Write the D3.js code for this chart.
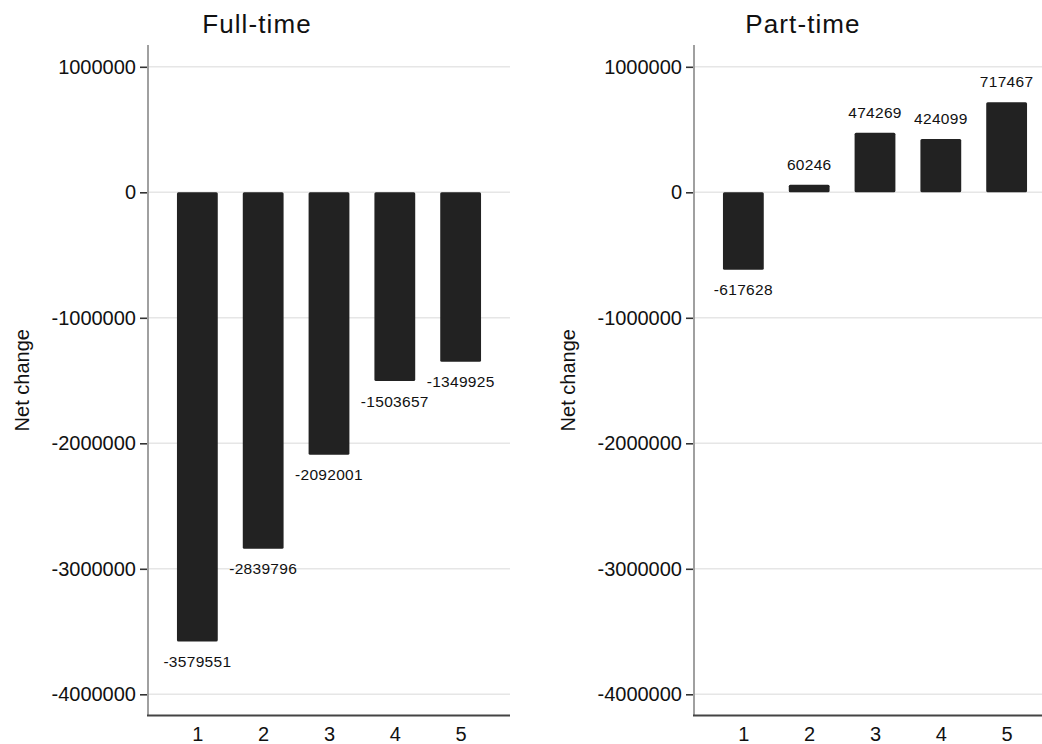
<!DOCTYPE html>
<html>
<head>
<meta charset="utf-8">
<script src="https://cdn.jsdelivr.net/npm/d3@7"></script>
<style>
  html, body { margin: 0; padding: 0; background: #fff; }
  svg { display: block; }
  text { font-family: "Liberation Sans", Arial, sans-serif; fill: #111; }
</style>
</head>
<body>
<svg id="chart" width="1042" height="744"></svg>
<script>
const categories = [1, 2, 3, 4, 5];
const fullTime = [-3579551, -2839796, -2092001, -1503657, -1349925];
const partTime = [-617628, 60246, 474269, 424099, 717467];
const yTicks = [1000000, 0, -1000000, -2000000, -3000000, -4000000];
const panelTitles = ["Full-time", "Part-time"];
const yAxisTitle = "Net change";

const svg = d3.select("#chart");
const W = 1042, H = 744;
svg.append("rect").attr("width", W).attr("height", H).attr("fill", "#fff");

const fmt = d3.formatLocale({decimal: ".", thousands: "", grouping: [3], currency: ["", ""], minus: "-"}).format("d");

const y = d3.scaleLinear().domain([-4000000, 1000000]).range([694.3, 66.8]);
const axisTop = 45, axisBottom = 715.5;

function panel(x0, values, title) {
  const g = svg.append("g");
  const x = d3.scaleLinear().domain([0.25, 5.75]).range([x0, x0 + 362]);
  const barW = x(1.62) - x(1);

  // gridlines
  g.selectAll("line.grid").data(yTicks).join("line")
    .attr("x1", x0).attr("x2", x0 + 362)
    .attr("y1", d => y(d)).attr("y2", d => y(d))
    .attr("stroke", "#e6e6e6").attr("stroke-width", 1.6);

  // bars
  g.selectAll("rect.bar").data(values).join("rect")
    .attr("x", (d, i) => x(categories[i]) - barW / 2)
    .attr("width", barW)
    .attr("y", d => Math.min(y(d), y(0)))
    .attr("height", d => Math.abs(y(d) - y(0)))
    .attr("rx", 1.5)
    .attr("fill", "#222");

  // value labels
  g.selectAll("text.val").data(values).join("text")
    .attr("x", (d, i) => x(categories[i]))
    .attr("y", d => d >= 0 ? y(d) - 15 : y(d) + 25.5)
    .attr("text-anchor", "middle")
    .attr("font-size", 15.5)
    .attr("letter-spacing", 0.3)
    .text(d => fmt(d));

  // y axis
  const yAxis = d3.axisLeft(y).tickValues(yTicks).tickSize(8).tickPadding(4)
    .tickFormat(fmt);
  const ya = g.append("g").attr("transform", `translate(${x0},0)`).call(yAxis);
  ya.select(".domain").remove();
  ya.selectAll(".tick line").attr("stroke", "#333").attr("stroke-width", 1.6);
  ya.selectAll(".tick text").attr("font-size", 20).attr("fill", "#111")
    .attr("font-family", "Liberation Sans, Arial, sans-serif");
  g.append("line").attr("x1", x0).attr("x2", x0).attr("y1", axisTop).attr("y2", axisBottom)
    .attr("stroke", "#a0a0a0").attr("stroke-width", 2);

  // x axis
  const xAxis = d3.axisBottom(x).tickValues(categories).tickSize(0).tickPadding(11)
    .tickFormat(fmt);
  const xa = g.append("g").attr("transform", `translate(0,${axisBottom})`).call(xAxis);
  xa.select(".domain").remove();
  xa.selectAll(".tick text").attr("font-size", 20).attr("fill", "#111")
    .attr("font-family", "Liberation Sans, Arial, sans-serif");
  g.append("line").attr("x1", x0 - 1).attr("x2", x0 + 362).attr("y1", axisBottom).attr("y2", axisBottom)
    .attr("stroke", "#444").attr("stroke-width", 2);

  // y axis title
  g.append("text")
    .attr("transform", `translate(${x0 - 119},${(axisTop + axisBottom) / 2}) rotate(-90)`)
    .attr("text-anchor", "middle")
    .attr("font-size", 20)
    .text(yAxisTitle);

  // title
  g.append("text")
    .attr("x", x0 + 109).attr("y", 33)
    .attr("text-anchor", "middle")
    .attr("font-size", 26)
    .attr("letter-spacing", 1.1)
    .text(title);
}

panel(148, fullTime, panelTitles[0]);
panel(694, partTime, panelTitles[1]);
</script>
</body>
</html>
